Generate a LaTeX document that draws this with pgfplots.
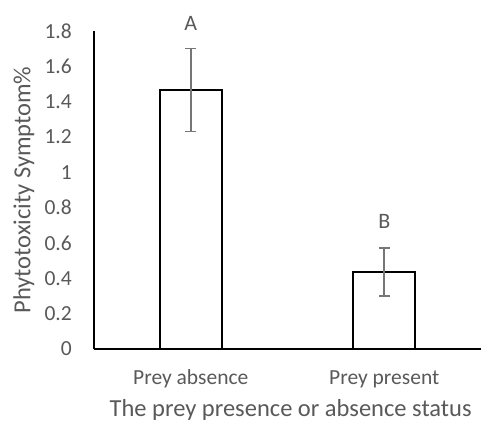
\documentclass[border=0pt]{standalone}
\usepackage{pgfplots}
\pgfplotsset{compat=1.18}
\usepackage{fontspec}
\setmainfont{Carlito}
\definecolor{txt}{HTML}{595959}
\definecolor{errc}{HTML}{767676}
\begin{document}
\fontsize{22bp}{26bp}\selectfont
\begin{tikzpicture}
\begin{axis}[
  at={(0,0)}, anchor=south west,
  scale only axis, width=387bp, height=318bp,
  xmin=-0.5, xmax=1.5, ymin=0, ymax=1.8,
  axis x line*=bottom, axis y line*=left,
  axis line style={line width=1.8bp, black},
  xtick={0,1}, xticklabels={Prey absence, Prey present},
  ytick={0,0.2,0.4,0.6,0.8,1,1.2,1.4,1.6,1.8},
  yticklabels={0,0.2,0.4,0.6,0.8,1,1.2,1.4,1.6,1.8},
  major tick length=0pt,
  tick label style={font=\fontsize{21.5bp}{26bp}\selectfont, text=txt},
  yticklabel style={anchor=east, inner sep=0pt, xshift=-22bp},
  xticklabel style={anchor=base, inner sep=0pt, yshift=-35bp},
  xlabel={The prey presence or absence status},
  ylabel={Phytotoxicity Symptom\%},
  xlabel style={at={(axis description cs:0.508,-0.2125)}, anchor=base, inner sep=0pt, text=txt, font=\fontsize{24.5bp}{28bp}\selectfont},
  ylabel style={at={(axis description cs:-0.181,0.5)}, anchor=center, inner sep=0pt, text=txt, font=\fontsize{24.5bp}{28bp}\selectfont},
  ybar, bar width=62bp,
  clip=false,
]
\addplot[ybar, draw=black, fill=white, line width=1.8bp,
  error bars/.cd, y dir=both, y explicit, error mark=|,
  error bar style={color=errc, line width=1.6bp},
  error mark options={color=errc, line width=1.6bp, mark size=5.5bp}]
  coordinates {(0,1.465) +- (0,0.235) (1,0.435) +- (0,0.135)};
\node[text=txt, anchor=base, inner sep=0pt, font=\fontsize{22bp}{26bp}\selectfont] at (axis cs:0,1.80) {A};
\node[text=txt, anchor=base, inner sep=0pt, font=\fontsize{22bp}{26bp}\selectfont] at (axis cs:1,0.68) {B};
\end{axis}
\pgfresetboundingbox
\path[use as bounding box] (-94bp,-74bp) rectangle (387bp,349bp);
\end{tikzpicture}
\end{document}
